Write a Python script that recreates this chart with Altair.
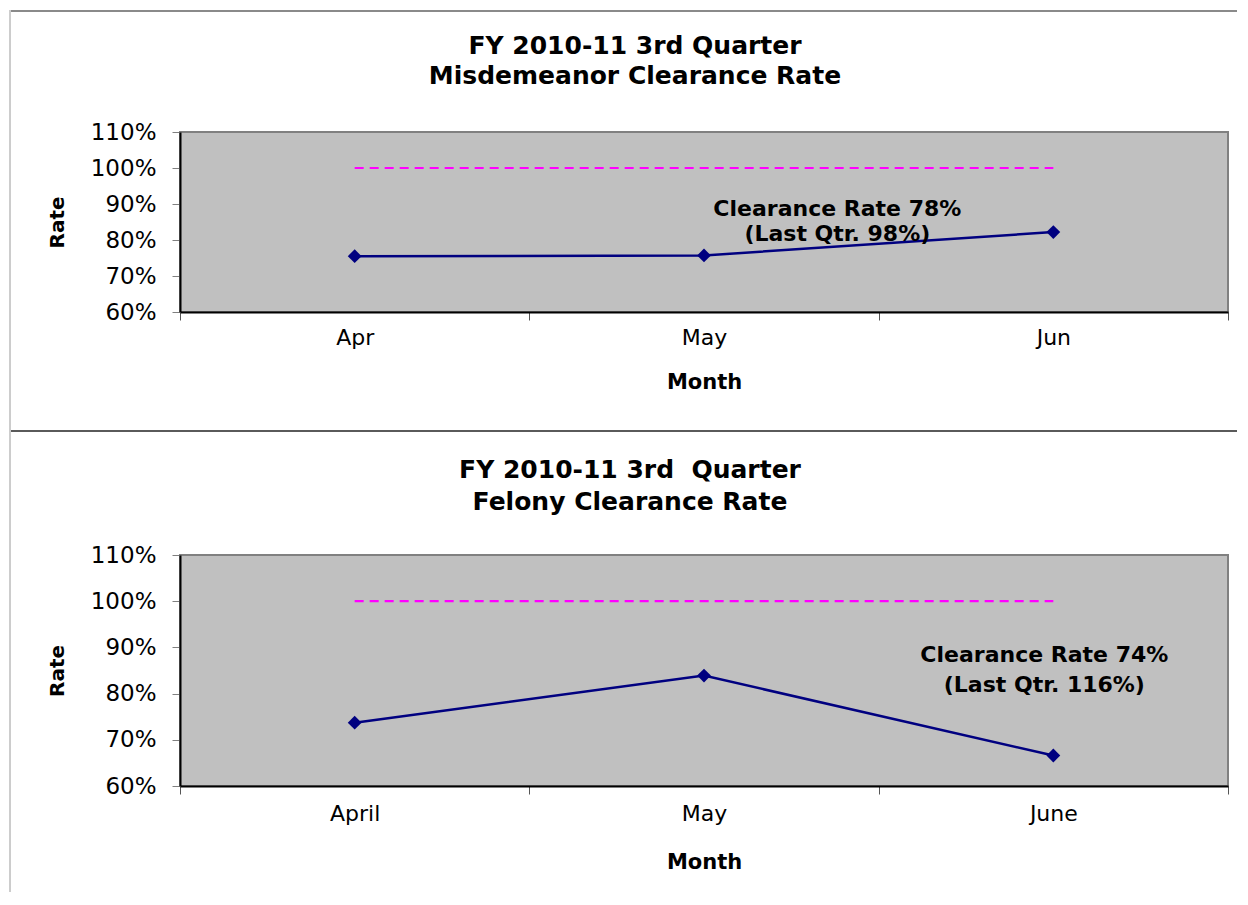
import altair as alt
import pandas as pd

FONT = "DejaVu Sans"

# ---- data ----
months_top = ["Apr", "May", "Jun"]
rate_top = [0.755, 0.757, 0.822]
target_top = [1.0, 1.0, 1.0]

months_bottom = ["April", "May", "June"]
rate_bottom = [0.737, 0.839, 0.666]
target_bottom = [1.0, 1.0, 1.0]

y_ticks = [0.6, 0.7, 0.8, 0.9, 1.0, 1.1]

title_top = "FY 2010-11 3rd Quarter\nMisdemeanor Clearance Rate"
title_bottom = "FY 2010-11 3rd\u00a0 Quarter\nFelony Clearance Rate"

note_top = ["Clearance Rate 78%", "(Last Qtr. 98%)"]
note_top_y = [0.886, 0.817]
note_bottom = ["Clearance Rate 74%", "(Last Qtr. 116%)"]
note_bottom_y = [0.8835, 0.8186]


def panel(months, rate, target, title, notes, note_y, note_month, note_dx,
          height, label_pad, title_pad, title_x, title_y, title_lh, frame=False):
    df = pd.DataFrame({"Month": months, "Rate": rate, "Target": target})

    def xenc():
        return alt.X(
            "Month:N", sort=months, bandPosition=0.5,
            scale=alt.Scale(type="band", paddingInner=0, paddingOuter=0),
            axis=alt.Axis(title="Month", labelAngle=0, tickBand="extent",
                          labelFont=FONT, labelFontSize=22, labelColor="black",
                          labelPadding=label_pad, tickSize=8, tickColor="#555555",
                          tickWidth=1, domainColor="black", domainWidth=2,
                          titleFont=FONT, titleFontSize=21, titleFontWeight="bold",
                          titleColor="black", titlePadding=title_pad, grid=False),
        )

    def yenc(field):
        return alt.Y(
            field, scale=alt.Scale(domain=[0.6, 1.1], nice=False, zero=False),
            axis=alt.Axis(title="Rate", values=y_ticks, format=".0%", grid=False,
                          labelFont=FONT, labelFontSize=23, labelColor="black",
                          labelPadding=16, labelFlush=False, labelOverlap=False,
                          tickSize=8, tickColor="#808080", tickWidth=1,
                          domainColor="black", domainWidth=2,
                          titleFont=FONT, titleFontSize=20, titleFontWeight="bold",
                          titleColor="black", titlePadding=23),
        )

    base = alt.Chart(df)
    target_line = base.mark_line(color="#FF00FF", strokeWidth=2.2, strokeDash=[9, 6]).encode(
        x=xenc(), y=yenc("Target:Q"))
    rate_line = base.mark_line(
        color="#000080", strokeWidth=2.5,
        point=alt.OverlayMarkDef(shape="diamond", size=190, filled=True, color="#000080"),
    ).encode(x=xenc(), y=yenc("Rate:Q"))

    ndf = pd.DataFrame({"Month": [note_month] * len(notes), "y": note_y, "t": notes})
    note = alt.Chart(ndf).mark_text(
        font=FONT, fontSize=22, fontWeight="bold", color="black",
        align="center", baseline="middle", dx=note_dx,
    ).encode(x=xenc(), y=yenc("y:Q"), text="t:N")

    tdf = pd.DataFrame({"t": [title]})
    ttl = alt.Chart(tdf).mark_text(
        font=FONT, fontSize=25, fontWeight="bold", color="black",
        align="center", baseline="middle", lineBreak="\n", lineHeight=title_lh,
    ).encode(x=alt.value(title_x), y=alt.value(title_y), text="t:N")

    layers = [target_line, rate_line, note, ttl]
    if frame:
        one = pd.DataFrame({"v": [0]})
        top_border = alt.Chart(one).mark_rule(color="#8a8a8a", strokeWidth=2).encode(
            x=alt.value(-169), x2=alt.value(1057), y=alt.value(-121))
        divider = alt.Chart(one).mark_rule(color="#5a5a5a", strokeWidth=2).encode(
            x=alt.value(-169), x2=alt.value(1057), y=alt.value(299))
        left_border = alt.Chart(one).mark_rule(color="#9a9a9a", strokeWidth=1).encode(
            x=alt.value(-170), y=alt.value(-122), y2=alt.value(760))
        layers = [top_border, divider, left_border] + layers

    return alt.layer(*layers).properties(width=1048, height=height)


top = panel(months_top, rate_top, target_top, title_top, note_top, note_top_y,
            "Jun", -216, 180, 7, 23, 455, -86, 30, frame=True)
bottom = panel(months_bottom, rate_bottom, target_bottom, title_bottom, note_bottom,
               note_bottom_y, "June", -9, 231, 9, 27, 450, -85, 32)

chart = alt.vconcat(top, bottom, spacing=243, bounds="flush").properties(
    padding=0, background="white"
).configure_view(fill="#C0C0C0", stroke="#808080", strokeWidth=2)

chart.save("out.html", embed_options={"renderer": "svg", "actions": False})
